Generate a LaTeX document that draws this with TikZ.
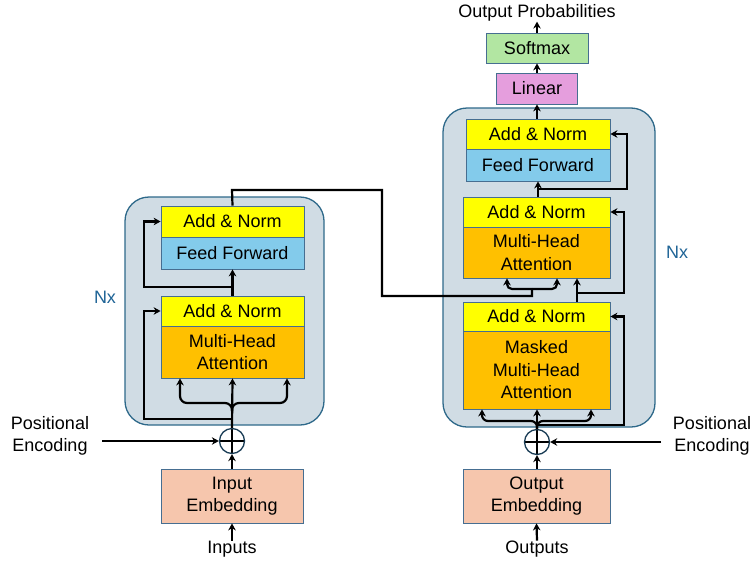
\documentclass[tikz,border=0pt]{standalone}
\usepackage{fontspec}
\setmainfont{Liberation Sans}
\usetikzlibrary{arrows.meta,calc}
\definecolor{contfill}{RGB}{208,220,228}
\definecolor{contdraw}{RGB}{46,105,138}
\definecolor{boxdraw}{RGB}{70,110,145}
\definecolor{addyel}{RGB}{255,255,0}
\definecolor{ffblue}{RGB}{131,203,235}
\definecolor{attor}{RGB}{255,192,0}
\definecolor{embpeach}{RGB}{246,198,173}
\definecolor{linpink}{RGB}{229,158,221}
\definecolor{smgreen}{RGB}{178,230,162}
\definecolor{nxblue}{RGB}{31,100,150}
\definecolor{plusdraw}{RGB}{25,60,85}
\begin{document}
\begin{tikzpicture}[x=1pt,y=-1pt,
  font=\fontsize{18}{22.5}\selectfont,
  container/.style={draw=contdraw,fill=contfill,line width=1.3pt,rounded corners=24pt},
  blk/.style={draw=boxdraw,line width=0.8pt,inner sep=0pt,align=center},
  conn/.style={line width=2.2pt},
  arr/.style={conn,-{Stealth[length=7pt,width=7.5pt]}},
  lbl/.style={inner sep=0pt,align=center},
  oplus/.style={circle,draw=plusdraw,fill=white,line width=1.3pt,minimum size=25pt,inner sep=0pt,
    path picture={\draw[line width=1.6pt,black]
      (path picture bounding box.north) -- (path picture bounding box.south)
      (path picture bounding box.west) -- (path picture bounding box.east);}}
]
\useasboundingbox (0,0) rectangle (754,562);

% containers
\draw[container] (125,197) rectangle (324,425);
\draw[container] (443,108) rectangle (655,427);

% encoder blocks
\node[blk,fill=addyel,minimum width=143pt,minimum height=31pt] (ean2) at (232.5,221.5) {Add \& Norm};
\node[blk,fill=ffblue,minimum width=143pt,minimum height=32pt] (eff) at (232.5,253) {Feed Forward};
\node[blk,fill=addyel,minimum width=143pt,minimum height=30pt] (ean1) at (232.5,311) {Add \& Norm};
\node[blk,fill=attor,minimum width=143pt,minimum height=52pt] (emha) at (232.5,352) {Multi-Head\\Attention};

% decoder blocks
\node[blk,fill=addyel,minimum width=144pt,minimum height=30pt] (dan3) at (538,134) {Add \& Norm};
\node[blk,fill=ffblue,minimum width=144pt,minimum height=32pt] (dff) at (538,165) {Feed Forward};
\node[blk,fill=addyel,minimum width=147pt,minimum height=30pt] (dan2) at (536.5,212) {Add \& Norm};
\node[blk,fill=attor,minimum width=147pt,minimum height=51pt] (dmha) at (536.5,252.5) {Multi-Head\\Attention};
\node[blk,fill=addyel,minimum width=147pt,minimum height=29pt] (dan1) at (536.5,316.5) {Add \& Norm};
\node[blk,fill=attor,minimum width=147pt,minimum height=78pt] (dmmha) at (536.5,370) {Masked\\Multi-Head\\Attention};

% top
\node[blk,fill=linpink,minimum width=81pt,minimum height=31pt] (lin) at (537,88.5) {Linear};
\node[blk,fill=smgreen,minimum width=102pt,minimum height=30pt] (soft) at (537,48) {Softmax};
\node[lbl] (outprob) at (537,13) {Output Probabilities};

% bottom
\node[blk,fill=embpeach,minimum width=142pt,minimum height=54pt] (iemb) at (232,496) {Input\\Embedding};
\node[blk,fill=embpeach,minimum width=147pt,minimum height=54pt] (oemb) at (536.5,496) {Output\\Embedding};
\node[oplus] (eplus) at (232,441) {};
\node[oplus] (dplus) at (537,442) {};
\node[lbl] (inputs) at (232,549) {Inputs};
\node[lbl] (outputs) at (537,549) {Outputs};
\node[lbl] (pel) at (50,436) {Positional\\Encoding};
\node[lbl] (per) at (712,436) {Positional\\Encoding};
\node[lbl,text=nxblue] (nxl) at (105,297) {Nx};
\node[lbl,text=nxblue] (nxr) at (677,252) {Nx};

% helper coordinates
\coordinate (pelstart) at (102,441);
\coordinate (perstart) at (661,442);
\coordinate (ejn) at (232,411);
\coordinate (ebl) at (180,403);
\coordinate (ebr) at (287,403);
\coordinate (er1) at (232,419);
\coordinate (el1) at (144,419);
\coordinate (er2) at (232,287);
\coordinate (eo1) at (232,190);
\coordinate (eo2) at (382,190);
\coordinate (eo3) at (382,296);
\coordinate (eo4) at (532,296);
\coordinate (eo5) at (532,289);
\coordinate (dbl) at (507,289);
\coordinate (dbr) at (557,289);
\coordinate (djn) at (537,429);
\coordinate (dml) at (482,421);
\coordinate (dmr) at (591,421);
\coordinate (dr1) at (537,425);
\coordinate (dx1) at (624,425);
\coordinate (dq) at (577,293);
\coordinate (dx2) at (624,293);
\coordinate (dr3) at (538,189);
\coordinate (dx3) at (627,189);

% encoder connectors
\draw[arr] (inputs.north) -- (iemb.south);
\draw[arr] (iemb.north) -- (eplus.south);
\draw[arr] (pelstart) -- (eplus.west);
\draw[arr] (eplus.north) -- (emha.south);
\draw[arr,rounded corners=7pt] (ejn) |- (ebl) -- (ebl |- emha.south);
\draw[arr,rounded corners=7pt] (ejn) |- (ebr) -- (ebr |- emha.south);
\draw[arr] (er1) -- (el1) |- (ean1.west);
\draw[arr] (ean1.north) -- (eff.south);
\draw[arr] (er2) -- (er2 -| el1) |- (ean2.west);
\draw[conn] (ean2.north) -- (eo1) -- (eo2) -- (eo3) -- (eo4) -- (eo5);
\draw[arr,rounded corners=5pt] (eo5) -- (dbl) -- (dbl |- dmha.south);
\draw[arr,rounded corners=5pt] (eo5) -- (dbr) -- (dbr |- dmha.south);

% decoder connectors
\draw[arr] (outputs.north) -- (oemb.south);
\draw[arr] (oemb.north -| dplus) -- (dplus.south);
\draw[arr] (perstart) -- (dplus.east);
\draw[arr] (dplus.north) -- (dplus.north |- dmmha.south);
\draw[arr,rounded corners=6pt] (djn) |- (dml) -- (dml |- dmmha.south);
\draw[arr,rounded corners=6pt] (djn) |- (dmr) -- (dmr |- dmmha.south);
\draw[arr] (dr1) -- (dx1) |- (dan1.east);
\draw[arr] (dan1.north -| dq) -- (dmha.south -| dq);
\draw[arr] (dq) -- (dx2) |- (dan2.east);
\draw[arr] (dan2.north -| dff.south) -- (dff.south);
\draw[arr] (dr3) -- (dx3) |- (dan3.east);
\draw[arr] (dan3.north -| lin.south) -- (lin.south);
\draw[arr] (lin.north) -- (soft.south);
\draw[arr] (soft.north) -- (outprob.south);
\end{tikzpicture}
\end{document}
